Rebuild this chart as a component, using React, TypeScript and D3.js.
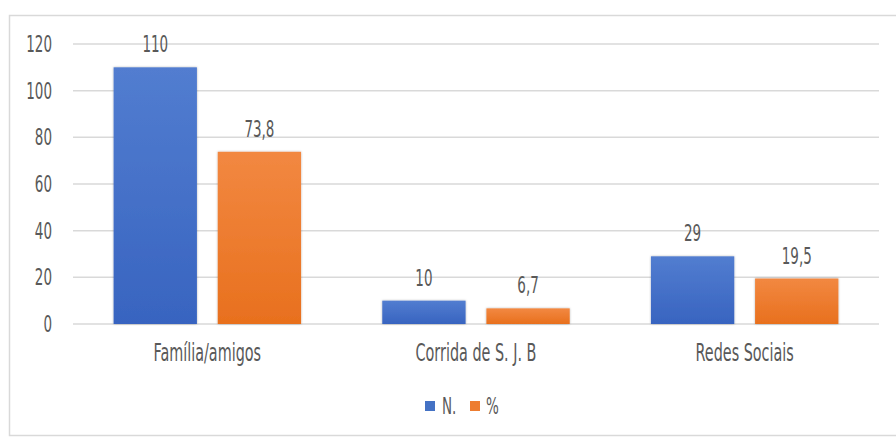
import React from "react";
import * as d3 from "d3";

const categories = ["Família/amigos", "Corrida de S. J. B", "Redes Sociais"];
const seriesN = [110, 10, 29];
const seriesPct = [73.8, 6.7, 19.5];
const pctLabels = ["73,8", "6,7", "19,5"];
const nLabels = ["110", "10", "29"];
const yTicks = [0, 20, 40, 60, 80, 100, 120];
const seriesNames = ["N.", "%"];

const W = 896;
const H = 437;
const FONT = "'DejaVu Sans', sans-serif";
const TEXT = "#595959";

function Label(props: { x: number; y: number; size: number; anchor?: string; children: React.ReactNode }) {
  return (
    <text
      transform={`translate(${props.x},${props.y}) scale(1,1.5)`}
      dy="0.36em"
      textAnchor={props.anchor || "middle"}
      fontFamily={FONT}
      fontSize={props.size}
      style={{ fontStretch: "condensed" }}
      fill={TEXT}
    >
      {props.children}
    </text>
  );
}

export default function App() {
  const x = d3.scaleBand<string>().domain(categories).range([73, 879]);
  const y = d3.scaleLinear().domain([0, 120]).range([324, 44]);
  const inner = d3.scaleBand<string>().domain(seriesNames).range([0, x.bandwidth()]).paddingInner(0.2).paddingOuter(0.39);
  const series = [
    { name: "N.", values: seriesN, labels: nLabels, fill: "url(#gBlue)" },
    { name: "%", values: seriesPct, labels: pctLabels, fill: "url(#gOrange)" },
  ];
  return (
    <svg width={W} height={H} style={{ position: "absolute", left: 0, top: 0, background: "#fff" }}>
      <defs>
        <linearGradient id="gBlue" x1="0" y1="0" x2="0" y2="1">
          <stop offset="0" stopColor="#527dd0" />
          <stop offset="1" stopColor="#3864c0" />
        </linearGradient>
        <linearGradient id="gOrange" x1="0" y1="0" x2="0" y2="1">
          <stop offset="0" stopColor="#f28841" />
          <stop offset="1" stopColor="#e8701e" />
        </linearGradient>
        <filter id="sh" x="-10%" y="-10%" width="120%" height="120%">
          <feDropShadow dx="0" dy="0" stdDeviation="1.2" floodColor="#000" floodOpacity="0.3" />
        </filter>
      </defs>
      <rect x={9.5} y={15.5} width={W} height={420} fill="#fff" stroke="#d9d9d9" strokeWidth={1.5} />
      {yTicks.map((t) => (
        <g key={t}>
          <line x1={73} x2={879} y1={y(t)} y2={y(t)} stroke="#d9d9d9" strokeWidth={1.5} />
          <Label x={52} y={y(t)} size={15} anchor="end">{t}</Label>
        </g>
      ))}
      {categories.map((c, i) => (
        <g key={c} transform={`translate(${x(c)},0)`}>
          {series.map((s) => {
            const bx = inner(s.name)!;
            const bw = inner.bandwidth();
            const v = s.values[i];
            return (
              <g key={s.name}>
                <rect x={bx} y={y(v)} width={bw} height={y(0) - y(v)} fill={s.fill} filter="url(#sh)" />
                <Label x={bx + bw / 2} y={y(v) - 23} size={15}>{s.labels[i]}</Label>
              </g>
            );
          })}
          <Label x={x.bandwidth() / 2} y={352} size={16}>{c}</Label>
        </g>
      ))}
      <g>
        <rect x={425} y={401} width={10} height={10} fill="#4472c4" />
        <Label x={442} y={406} size={15} anchor="start">{seriesNames[0]}</Label>
        <rect x={470} y={401} width={10} height={10} fill="#ed7d31" />
        <Label x={486} y={406} size={15} anchor="start">{seriesNames[1]}</Label>
      </g>
    </svg>
  );
}
